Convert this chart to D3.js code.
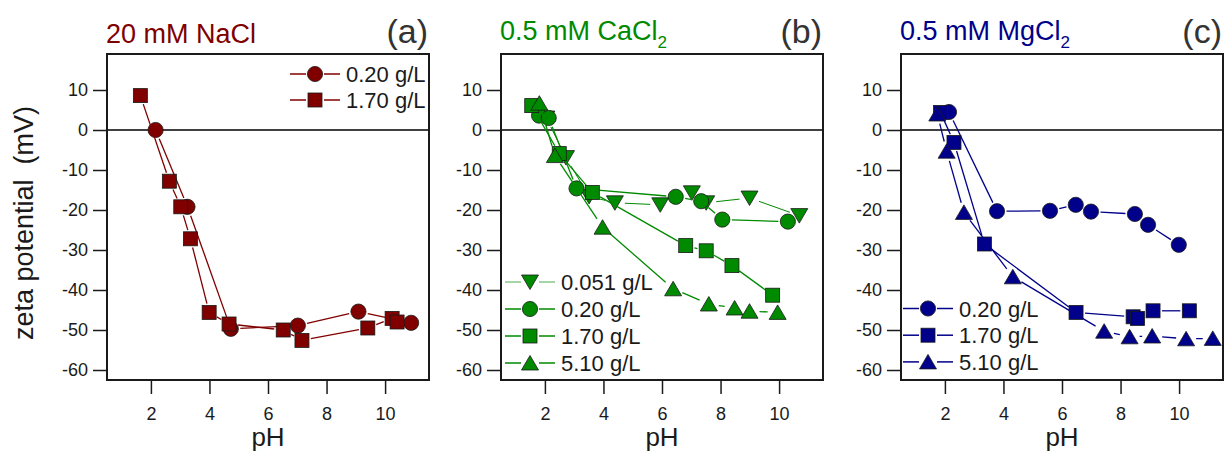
<!DOCTYPE html>
<html>
<head>
<meta charset="utf-8">
<script src="https://cdn.jsdelivr.net/npm/d3@7"></script>
<style>
  html, body { margin: 0; padding: 0; background: #fff; }
  svg { display: block; font-family: "Liberation Sans", Arial, sans-serif; }
</style>
</head>
<body>
<svg id="chart" width="1227" height="453"></svg>
<script>
// ---------------- DATA ----------------
const xTicks = [2, 4, 6, 8, 10];
const yTicks = [10, 0, -10, -20, -30, -40, -50, -60];
const xLabel = "pH";
const yLabel = "zeta potential \u00a0(mV)";

// Panel (a) 20 mM NaCl
const a_pH_020 = [2.16, 3.25, 4.73, 7.02, 9.09, 10.89];
const a_zeta_020 = [0.0, -19.2, -49.7, -48.9, -45.4, -48.2];
const a_pH_170 = [1.64, 2.63, 3.02, 3.35, 3.99, 4.67, 6.52, 7.16, 9.41, 10.24, 10.41];
const a_zeta_170 = [8.6, -12.8, -19.2, -27.2, -45.6, -48.5, -50.0, -52.6, -49.5, -47.1, -48.0];

// Panel (b) 0.5 mM CaCl2
const b_pH_0051 = [2.05, 2.72, 3.51, 4.39, 5.94, 7.02, 7.51, 8.99, 10.69];
const b_zeta_0051 = [3.0, -6.9, -16.6, -18.2, -18.7, -15.7, -18.2, -17.0, -21.4];
const b_pH_020 = [1.80, 2.13, 3.08, 6.47, 7.34, 8.06, 10.30];
const b_zeta_020 = [3.6, 3.0, -14.6, -16.7, -17.8, -22.4, -22.9];
const b_pH_170 = [1.55, 2.49, 3.62, 6.81, 7.51, 8.39, 9.78];
const b_zeta_170 = [6.1, -5.9, -15.6, -28.9, -30.2, -33.9, -41.3];
const b_pH_510 = [1.81, 2.34, 3.97, 6.38, 7.60, 8.48, 8.99, 9.95];
const b_zeta_510 = [6.7, -6.4, -24.3, -39.7, -43.5, -44.5, -45.3, -45.6];

// Panel (c) 0.5 mM MgCl2
const c_pH_020 = [2.14, 3.78, 5.59, 6.47, 6.99, 8.49, 8.94, 9.99];
const c_zeta_020 = [4.5, -20.3, -20.2, -18.7, -20.4, -21.0, -23.7, -28.7];
const c_pH_170 = [1.85, 2.31, 3.35, 6.48, 8.43, 8.58, 9.11, 10.35];
const c_zeta_170 = [4.4, -3.1, -28.5, -45.6, -46.7, -47.1, -45.2, -45.2];
const c_pH_510 = [1.74, 2.06, 2.65, 4.32, 7.44, 8.31, 9.08, 10.24, 11.15];
const c_zeta_510 = [4.0, -5.3, -20.6, -36.7, -50.3, -51.7, -51.5, -52.2, -52.1];

const panelTitles = ["20 mM NaCl", "0.5 mM CaCl", "0.5 mM MgCl"];
const titleSubs = ["", "2", "2"];
const panelTags = ["(a)", "(b)", "(c)"];
const panelColors = ["#800000", "#008a00", "#00008a"];

// ---------------- BUILD ----------------
const zip = (xs, ys) => xs.map((x, i) => ({x, y: ys[i]}));

const panels = [
  {
    left: 107, legend: {x: 315, y0: 74, dy: 26},
    series: [
      {label: "0.20 g/L", shape: "circle", data: zip(a_pH_020, a_zeta_020)},
      {label: "1.70 g/L", shape: "square", data: zip(a_pH_170, a_zeta_170)}
    ]
  },
  {
    left: 501, legend: {x: 530, y0: 282, dy: 27},
    series: [
      {label: "0.051 g/L", shape: "down", data: zip(b_pH_0051, b_zeta_0051), thin: true},
      {label: "0.20 g/L", shape: "circle", data: zip(b_pH_020, b_zeta_020)},
      {label: "1.70 g/L", shape: "square", data: zip(b_pH_170, b_zeta_170)},
      {label: "5.10 g/L", shape: "up", data: zip(b_pH_510, b_zeta_510)}
    ]
  },
  {
    left: 901, legend: {x: 928, y0: 308.5, dy: 26.7},
    series: [
      {label: "0.20 g/L", shape: "circle", data: zip(c_pH_020, c_zeta_020)},
      {label: "1.70 g/L", shape: "square", data: zip(c_pH_170, c_zeta_170)},
      {label: "5.10 g/L", shape: "up", data: zip(c_pH_510, c_zeta_510)}
    ]
  }
];

const W = 322, TOP = 54, H = 326;
const svg = d3.select("#chart");
const FONT = "'Liberation Sans', Arial, sans-serif";

const halfSize = {circle: 7.5, square: 7, up: 8, down: 8};

function drawMarker(g, shape, cx, cy, color) {
  const stroke = "#1a1a1a", sw = 0.8;
  if (shape === "circle") {
    g.append("circle").attr("cx", cx).attr("cy", cy).attr("r", 7.6)
      .attr("fill", color).attr("stroke", stroke).attr("stroke-width", sw);
  } else if (shape === "square") {
    g.append("rect").attr("x", cx - 7).attr("y", cy - 7).attr("width", 14).attr("height", 14)
      .attr("fill", color).attr("stroke", stroke).attr("stroke-width", sw);
  } else if (shape === "up") {
    g.append("path").attr("d", `M${cx},${cy - 7.5}L${cx + 8.5},${cy + 7}L${cx - 8.5},${cy + 7}Z`)
      .attr("fill", color).attr("stroke", stroke).attr("stroke-width", sw);
  } else {
    g.append("path").attr("d", `M${cx},${cy + 7.5}L${cx + 8.5},${cy - 7}L${cx - 8.5},${cy - 7}Z`)
      .attr("fill", color).attr("stroke", stroke).attr("stroke-width", sw);
  }
}

panels.forEach((p, pi) => {
  const color = panelColors[pi];
  const x = d3.scaleLinear().domain([0.5, 11.5]).range([p.left, p.left + W]);
  const y = d3.scaleLinear().domain([-62.5, 19]).range([TOP + H, TOP]);
  const g = svg.append("g");

  // axes
  const xAxis = d3.axisBottom(x).tickValues(xTicks).tickSize(14).tickSizeOuter(0).tickPadding(13)
    .tickFormat(d => String(d));
  const gx = g.append("g").attr("transform", `translate(0,${TOP + H})`).call(xAxis);
  const yAxis = d3.axisLeft(y).tickValues(yTicks).tickSize(14).tickSizeOuter(0).tickPadding(5)
    .tickFormat(d => String(d));
  const gy = g.append("g").attr("transform", `translate(${p.left},0)`).call(yAxis);
  [gx, gy].forEach(a => {
    a.select(".domain").remove();
    a.selectAll(".tick line").attr("stroke", "#1a1a1a").attr("stroke-width", 1.5);
    a.selectAll(".tick text").attr("fill", "#1a1a1a").style("font-size", "18px").style("font-family", FONT);
  });

  // zero line
  g.append("line").attr("x1", p.left).attr("x2", p.left + W)
    .attr("y1", y(0)).attr("y2", y(0)).attr("stroke", "#000").attr("stroke-width", 1.5);

  // clip
  const clipId = "clip" + pi;
  svg.append("clipPath").attr("id", clipId).append("rect")
    .attr("x", p.left).attr("y", TOP).attr("width", W).attr("height", H);
  const plot = g.append("g").attr("clip-path", `url(#${clipId})`);

  // series
  p.series.forEach(s => {
    const pts = s.data.map(d => [x(d.x), y(d.y)]);
    const gap = halfSize[s.shape] + 2;
    for (let i = 0; i < pts.length - 1; i++) {
      const [x1, y1] = pts[i], [x2, y2] = pts[i + 1];
      const L = Math.hypot(x2 - x1, y2 - y1);
      if (L <= 2 * gap) continue;
      const ux = (x2 - x1) / L, uy = (y2 - y1) / L;
      plot.append("line")
        .attr("x1", x1 + ux * gap).attr("y1", y1 + uy * gap)
        .attr("x2", x2 - ux * gap).attr("y2", y2 - uy * gap)
        .attr("stroke", color).attr("stroke-width", s.thin ? 1.0 : 1.3);
    }
    pts.forEach(([cx, cy]) => drawMarker(plot, s.shape, cx, cy, color));
  });

  // legend
  p.series.forEach((s, i) => {
    const ly = p.legend.y0 + i * p.legend.dy, mx = p.legend.x;
    const lg = g.append("g");
    lg.append("line").attr("x1", mx - 25).attr("x2", mx - 9).attr("y1", ly).attr("y2", ly)
      .attr("stroke", color).attr("stroke-width", s.thin ? 1.0 : 1.5).attr("opacity", s.thin ? 0.7 : 1);
    lg.append("line").attr("x1", mx + 9).attr("x2", mx + 25).attr("y1", ly).attr("y2", ly)
      .attr("stroke", color).attr("stroke-width", s.thin ? 1.0 : 1.5).attr("opacity", s.thin ? 0.7 : 1);
    drawMarker(lg, s.shape, mx, ly, color);
    lg.append("text").attr("x", mx + 31).attr("y", ly + 8)
      .style("font-size", "22px").style("font-family", FONT).attr("fill", "#1a1a1a")
      .text(s.label);
  });

  // frame
  g.append("rect").attr("x", p.left).attr("y", TOP).attr("width", W).attr("height", H)
    .attr("fill", "none").attr("stroke", "#1a1a1a").attr("stroke-width", 2);

  // title
  const t = g.append("text").attr("x", p.left - 1).attr("y", pi === 0 ? 43 : 40)
    .attr("fill", color).style("font-size", "27px").style("font-family", FONT);
  t.append("tspan").text(panelTitles[pi]);
  if (titleSubs[pi]) t.append("tspan").attr("dy", 8).style("font-size", "17px").text(titleSubs[pi]);

  // tag
  g.append("text").attr("x", p.left + W - 1).attr("y", 43).attr("text-anchor", "end")
    .attr("fill", "#333").style("font-size", "34px").style("font-family", FONT).text(panelTags[pi]);

  // x label
  g.append("text").attr("x", p.left + W / 2).attr("y", 446).attr("text-anchor", "middle")
    .attr("fill", "#1a1a1a").style("font-size", "26px").style("font-family", FONT).text(xLabel);
});

// y label (panel a only)
svg.append("text").attr("transform", "translate(33,223) rotate(-90)").attr("text-anchor", "middle")
  .attr("fill", "#1a1a1a").style("font-size", "27px").style("font-family", FONT).text(yLabel);
</script>
</body>
</html>
